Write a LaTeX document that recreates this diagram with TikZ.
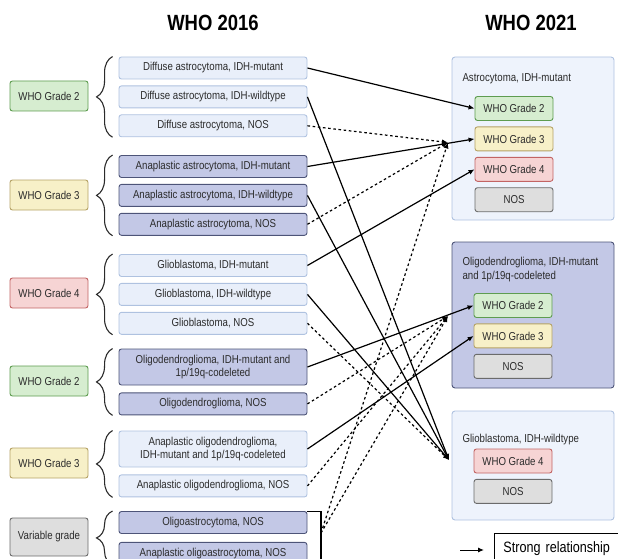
\documentclass[tikz,border=0pt]{standalone}
\usepackage{fontspec}
\setmainfont{Liberation Sans}[FakeStretch=0.84]
\usetikzlibrary{positioning, arrows.meta, decorations.pathreplacing}

\definecolor{lbfill}{HTML}{E9EFFA}
\definecolor{lbline}{HTML}{AFC2E0}
\definecolor{dbfill}{HTML}{C3C8E6}
\definecolor{dbline}{HTML}{4D5478}
\definecolor{grfill}{HTML}{D6EDD0}
\definecolor{grline}{HTML}{5E9C50}
\definecolor{yefill}{HTML}{F7F0C8}
\definecolor{yeline}{HTML}{B5A265}
\definecolor{rdfill}{HTML}{F6D4D4}
\definecolor{rdline}{HTML}{C26464}
\definecolor{gyfill}{HTML}{DEDEDE}
\definecolor{gyline}{HTML}{6B6B6B}
\definecolor{cbfill}{HTML}{EEF3FC}
\definecolor{txt}{HTML}{2B2B2B}

\begin{document}
\begin{tikzpicture}[x=1pt, y=-1pt, font=\fontsize{11.5}{13.5}\selectfont]

\useasboundingbox (0,0) rectangle (618,559);
\clip (0,0) rectangle (618,559);

\tikzstyle{arrow} = [line width=1.2pt,-{Latex[length=6pt,width=5pt]}]
\tikzstyle{weak} = [arrow, dash pattern=on 2.6pt off 2.6pt]
\tikzset{box/.style = {rectangle, rounded corners=2.5pt, line width=0.9pt, text centered, align=center, text=txt}, }
\tikzset{oldlight/.style = {box, draw=lbline, fill=lbfill, minimum width=188pt, minimum height=22pt}, }
\tikzset{olddark/.style = {box, draw=dbline, fill=dbfill, minimum width=188pt, minimum height=22pt}, }
\tikzset{grade/.style = {box, minimum width=78pt, minimum height=30pt}, }
\tikzset{newgrade/.style = {box, minimum width=78pt, minimum height=24pt}, }
\tikzset{green/.style = {draw=grline, fill=grfill}, yellow/.style = {draw=yeline, fill=yefill}, }
\tikzset{red/.style = {draw=rdline, fill=rdfill}, grey/.style = {draw=gyline, fill=gyfill}, }
\tikzset{family/.style = {rectangle, rounded corners=3pt, line width=0.9pt, minimum width=162pt}, }
\tikzset{brace/.style = {decorate, decoration={brace, amplitude=16pt, aspect=0.5}, line width=1.1pt, draw=txt}, }

\node[font=\fontsize{22}{24}\selectfont\bfseries] (T1) at (213,23) {WHO 2016};
\node[font=\fontsize{22}{24}\selectfont\bfseries] (T2) at (531,23) {WHO 2021};

\node[oldlight] (d1) at (213,68) {Diffuse astrocytoma, IDH-mutant};
\node[oldlight, below=6pt of d1] (d2) {Diffuse astrocytoma, IDH-wildtype};
\node[oldlight, below=6pt of d2] (d3) {Diffuse astrocytoma, NOS};

\node[olddark] (a1) at (213,166.5) {Anaplastic astrocytoma, IDH-mutant};
\node[olddark, below=6pt of a1] (a2) {Anaplastic astrocytoma, IDH-wildtype};
\node[olddark, below=6pt of a2] (a3) {Anaplastic astrocytoma, NOS};

\node[oldlight] (g1) at (213,265.5) {Glioblastoma, IDH-mutant};
\node[oldlight, below=6pt of g1] (g2) {Glioblastoma, IDH-wildtype};
\node[oldlight, below=6pt of g2] (g3) {Glioblastoma, NOS};

\node[olddark, minimum height=36pt] (o1) at (213,367) {Oligodendroglioma, IDH-mutant and\\1p/19q-codeleted};
\node[olddark, below=7pt of o1] (o2) {Oligodendroglioma, NOS};

\node[oldlight, minimum height=36pt] (ao1) at (213,449) {Anaplastic oligodendroglioma,\\IDH-mutant and 1p/19q-codeleted};
\node[oldlight, below=7pt of ao1] (ao2) {Anaplastic oligodendroglioma, NOS};

\node[olddark] (oa1) at (213,522.5) {Oligoastrocytoma, NOS};
\node[olddark, below=8pt of oa1] (oa2) {Anaplastic oligoastrocytoma, NOS};

\node[grade, green] (gr1) at (49,96) {WHO Grade 2};
\node[grade, yellow] (gr2) at (49,195) {WHO Grade 3};
\node[grade, red] (gr3) at (49,293) {WHO Grade 4};
\node[grade, green] (gr4) at (49,381) {WHO Grade 2};
\node[grade, yellow] (gr5) at (49,463) {WHO Grade 3};
\node[grade, grey, minimum height=38pt] (gr6) at (49,537) {Variable grade};

\draw[brace] ([xshift=-6pt]d3.south west) -- ([xshift=-6pt]d1.north west);
\draw[brace] ([xshift=-6pt]a3.south west) -- ([xshift=-6pt]a1.north west);
\draw[brace] ([xshift=-6pt]g3.south west) -- ([xshift=-6pt]g1.north west);
\draw[brace] ([xshift=-6pt]o2.south west) -- ([xshift=-6pt]o1.north west);
\draw[brace] ([xshift=-6pt]ao2.south west) -- ([xshift=-6pt]ao1.north west);
\draw[brace] ([xshift=-6pt]oa2.south west) -- ([xshift=-6pt]oa1.north west);

\node[family, draw=lbline, fill=cbfill, minimum height=163pt] (AST) at (533,138.5) {};
\node[anchor=west, text=txt] (astT) at (459,79) {Astrocytoma, IDH-mutant};
\node[newgrade, green] (ast2) at (514,108.5) {WHO Grade 2};
\node[newgrade, yellow, below=5.5pt of ast2] (ast3) {WHO Grade 3};
\node[newgrade, red, below=5.5pt of ast3] (ast4) {WHO Grade 4};
\node[newgrade, grey, below=5.5pt of ast4] (astN) {NOS};

\node[family, draw=dbline, fill=dbfill, minimum height=146pt] (OLI) at (533,315) {};
\node[anchor=west, align=left, text=txt] (oliT) at (459,269.5) {Oligodendroglioma, IDH-mutant\\and 1p/19q-codeleted};
\node[newgrade, green] (oli2) at (513,305.5) {WHO Grade 2};
\node[newgrade, yellow, below=5.5pt of oli2] (oli3) {WHO Grade 3};
\node[newgrade, grey, below=5.5pt of oli3] (oliN) {NOS};

\node[family, draw=lbline, fill=cbfill, minimum height=109pt] (GBM) at (533,465.5) {};
\node[anchor=west, text=txt] (gbmT) at (459,440) {Glioblastoma, IDH-wildtype};
\node[newgrade, red] (gbm4) at (513,461) {WHO Grade 4};
\node[newgrade, grey, below=5.5pt of gbm4] (gbmN) {NOS};

\coordinate (astIn) at (448,142.5);
\coordinate (oliIn) at (448,316);
\coordinate (gbmIn) at (449,460);
\coordinate (oaJoin) at (321,533);

\draw[line width=1.1pt] (oa1.north east) -- (oaJoin |- oa1.north east) -- (oaJoin |- oa2.south east) -- (oa2.south east);

\draw[arrow] (d1.east) -- (ast2.west);
\draw[arrow] (a1.east) -- (ast3.west);
\draw[arrow] (g1.east) -- (ast4.west);
\draw[arrow] (o1.east) -- (oli2.west);
\draw[arrow] (ao1.east) -- (oli3.west);
\draw[arrow] (d2.east) -- (gbmIn);
\draw[arrow] (a2.east) -- (gbmIn);
\draw[arrow] (g2.east) -- (gbmIn);

\draw[weak] (d3.east) -- (astIn);
\draw[weak] (a3.east) -- (astIn);
\draw[weak] (oaJoin) -- (astIn);
\draw[weak] (g3.east) -- (gbmIn);
\draw[weak] (o2.east) -- (oliIn);
\draw[weak] (ao2.east) -- (oliIn);
\draw[weak] (oaJoin) -- (oliIn);

\node[draw, line width=0.9pt, anchor=west, minimum height=32pt, text width=120pt, align=left, inner xsep=9pt, font=\fontsize{15}{17}\selectfont] (leg) at (494,549) {Strong relationship};
\coordinate (legS) at (460,550);
\draw[arrow, line width=1pt] (legS) -- ([xshift=-10pt]leg.west |- legS);
\end{tikzpicture}
\end{document}
